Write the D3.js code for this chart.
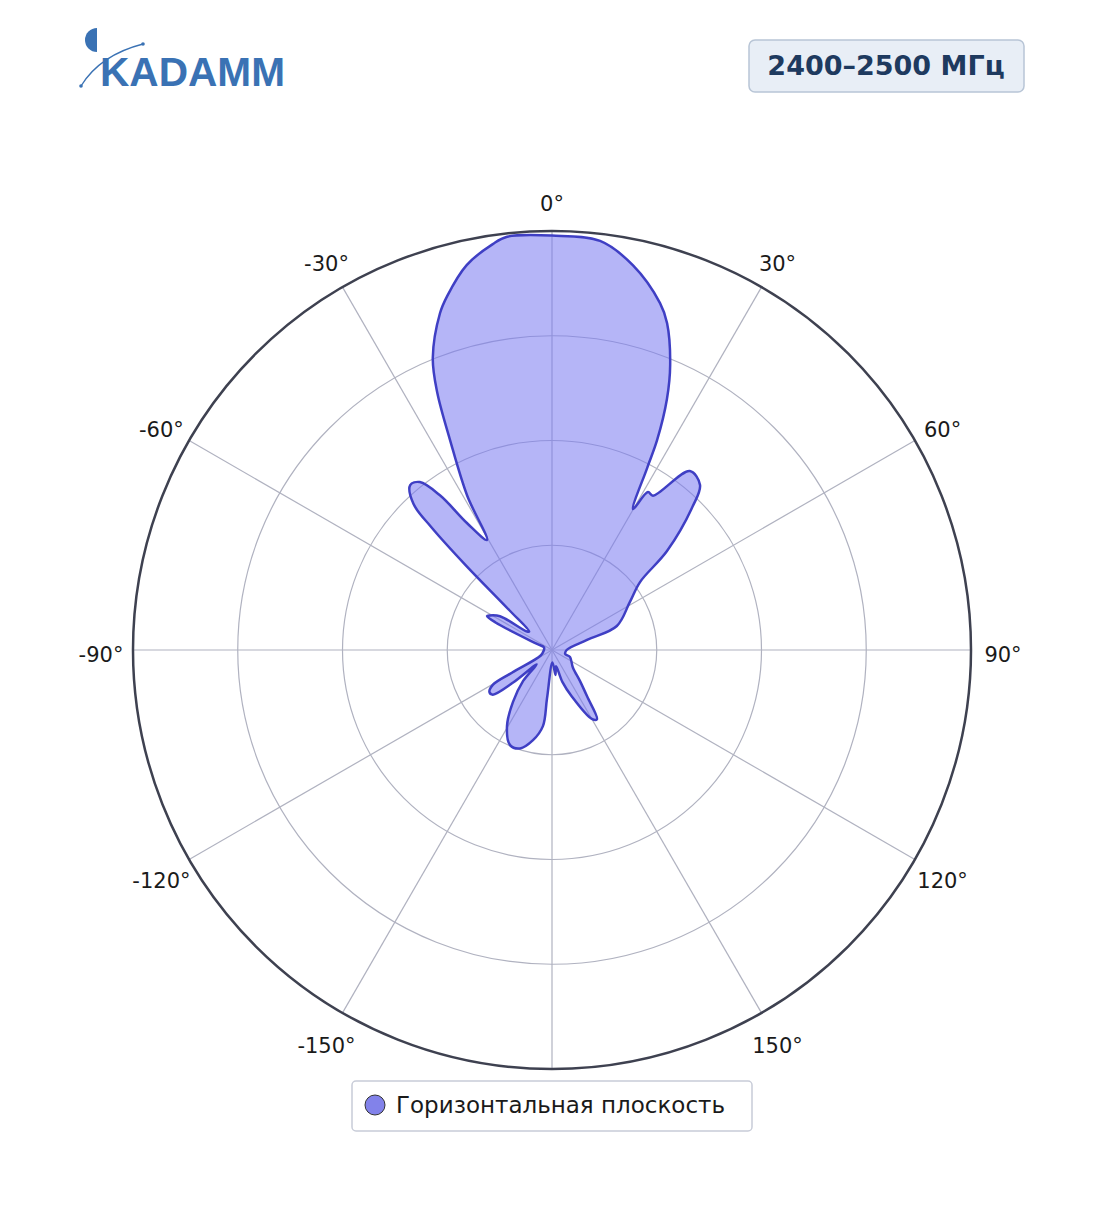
<!DOCTYPE html>
<html><head><meta charset="utf-8">
<script src="https://cdn.jsdelivr.net/npm/d3@7"></script>
<style>body{margin:0;background:#fff;font-family:"DejaVu Sans",sans-serif}</style>
</head><body><svg id="c" width="1104" height="1211"></svg>
<script>
const title = "2400–2500 МГц";
const seriesName = "Горизонтальная плоскость";
const angleTicks = [0,30,60,90,120,150,180,-150,-120,-90,-60,-30];
const angleLabels = ["0°","30°","60°","90°","120°","150°","","-150°","-120°","-90°","-60°","-30°"];
const ringValues = [0.25,0.5,0.75,1];
const anglesDeg = [0,6.7,11.9,17.3,19.4,22.5,24.6,26.6,27.6,29.9,31.3,33.2,37.6,41.9,44.4,49.3,52.3,58.4,69.7,74,
  90,107,111,130,138,143,147,150,157,162,166,172,178,
  185.9,186.8,191.9,198,203.8,210.6,216.9,223,227,230,233,236,239.5,240.5,244,
  265,288,292,296,297.6,299,303,306.5,309,313,314.5,315.5,316.5,319.3,321.8,324.1,326.2,329.4,
  331.2,334.1,336,337.8,341.6,343.5,347.5,351.7,353.8];
const gainValues = [0.989,0.983,0.938,0.867,0.827,0.737,0.659,0.56,0.49,0.388,0.441,0.44,0.539,0.529,0.48,0.362,0.266,0.218,0.165,0.087,
  0.035,0.033,0.046,0.065,0.1,0.14,0.197,0.19,0.12,0.08,0.04,0.06,0.03,
  0.117,0.183,0.22,0.247,0.248,0.211,0.155,0.101,0.05,0.12,0.177,0.18,0.164,0.11,0.03,
  0.02,0.02,0.04,0.15,0.175,0.17,0.148,0.074,0.07,0.14,0.29,0.41,0.48,0.519,0.51,0.455,0.364,0.305,
  0.42,0.557,0.674,0.753,0.847,0.881,0.941,0.979,0.992];

const svg = d3.select("#c");
const cx=552, cy=650, R=419;
const r = d3.scaleLinear().domain([0,1]).range([0,R]);
const a = d3.scaleLinear().domain([0,360]).range([0,2*Math.PI]);
const g = svg.append("g").attr("transform",`translate(${cx},${cy})`);

ringValues.slice(0,3).forEach(v=>g.append("circle").attr("r",r(v)).attr("fill","none").attr("stroke","#b0b2c0").attr("stroke-width",1.2));
angleTicks.forEach(t=>{
  const th=a(t);
  g.append("line").attr("x1",0).attr("y1",0).attr("x2",r(1)*Math.sin(th)).attr("y2",-r(1)*Math.cos(th))
   .attr("stroke","#b0b2c0").attr("stroke-width",1.2);
});
g.append("circle").attr("r",r(1)).attr("fill","none").attr("stroke","#3e4150").attr("stroke-width",2.5);

const data = anglesDeg.map((d,i)=>[a(d), r(gainValues[i])]);
const line = d3.lineRadial().angle(d=>d[0]).radius(d=>d[1]).curve(d3.curveCatmullRomClosed.alpha(0.5));
g.append("path").attr("d",line(data)).attr("fill","rgba(120,120,240,0.55)").attr("stroke","#3f3fc4").attr("stroke-width",2.5).attr("stroke-linejoin","round");

angleTicks.forEach((t,i)=>{
  if(!angleLabels[i]) return;
  const th=a(t), rr=r(1)+32;
  g.append("text").attr("x",rr*Math.sin(th)).attr("y",-rr*Math.cos(th)+5).attr("text-anchor","middle")
   .attr("dominant-baseline","central").attr("font-size",21).attr("fill","#1a1a1a").text(angleLabels[i]);
});

// badge
svg.append("rect").attr("x",749).attr("y",40).attr("width",275).attr("height",52).attr("rx",6)
  .attr("fill","#e8eef6").attr("stroke","#b8c5d6").attr("stroke-width",1.5);
svg.append("text").attr("x",886).attr("y",75).attr("text-anchor","middle").attr("font-size",27).attr("font-weight","bold")
  .attr("fill","#1e3a5f").text(title);

// logo
const lg = svg.append("g");
lg.append("path").attr("d","M97,28 A12,12 0 0 0 97,52 Z").attr("fill","#3a72b4");
lg.append("path").attr("d","M81,86 Q100,55 143,44").attr("fill","none").attr("stroke","#3a72b4").attr("stroke-width",1.3);
lg.append("circle").attr("cx",81).attr("cy",86).attr("r",1.8).attr("fill","#3a72b4");
lg.append("circle").attr("cx",143).attr("cy",44).attr("r",1.8).attr("fill","#3a72b4");
lg.append("text").attr("x",100).attr("y",86).attr("font-size",40).attr("font-weight","bold").attr("fill","#3a72b4")
  .attr("font-family","Liberation Sans, sans-serif").attr("textLength",185).attr("lengthAdjust","spacingAndGlyphs").text("KADAMM");

// legend
svg.append("rect").attr("x",352).attr("y",1081).attr("width",400).attr("height",50).attr("rx",4)
  .attr("fill","#fff").attr("stroke","#c8ccd8").attr("stroke-width",1.5);
svg.append("circle").attr("cx",375).attr("cy",1105).attr("r",10).attr("fill","#8282ea").attr("stroke","#333").attr("stroke-width",1);
svg.append("text").attr("x",396).attr("y",1105).attr("dominant-baseline","central").attr("font-size",23).attr("fill","#1a1a1a").text(seriesName);
</script></body></html>
